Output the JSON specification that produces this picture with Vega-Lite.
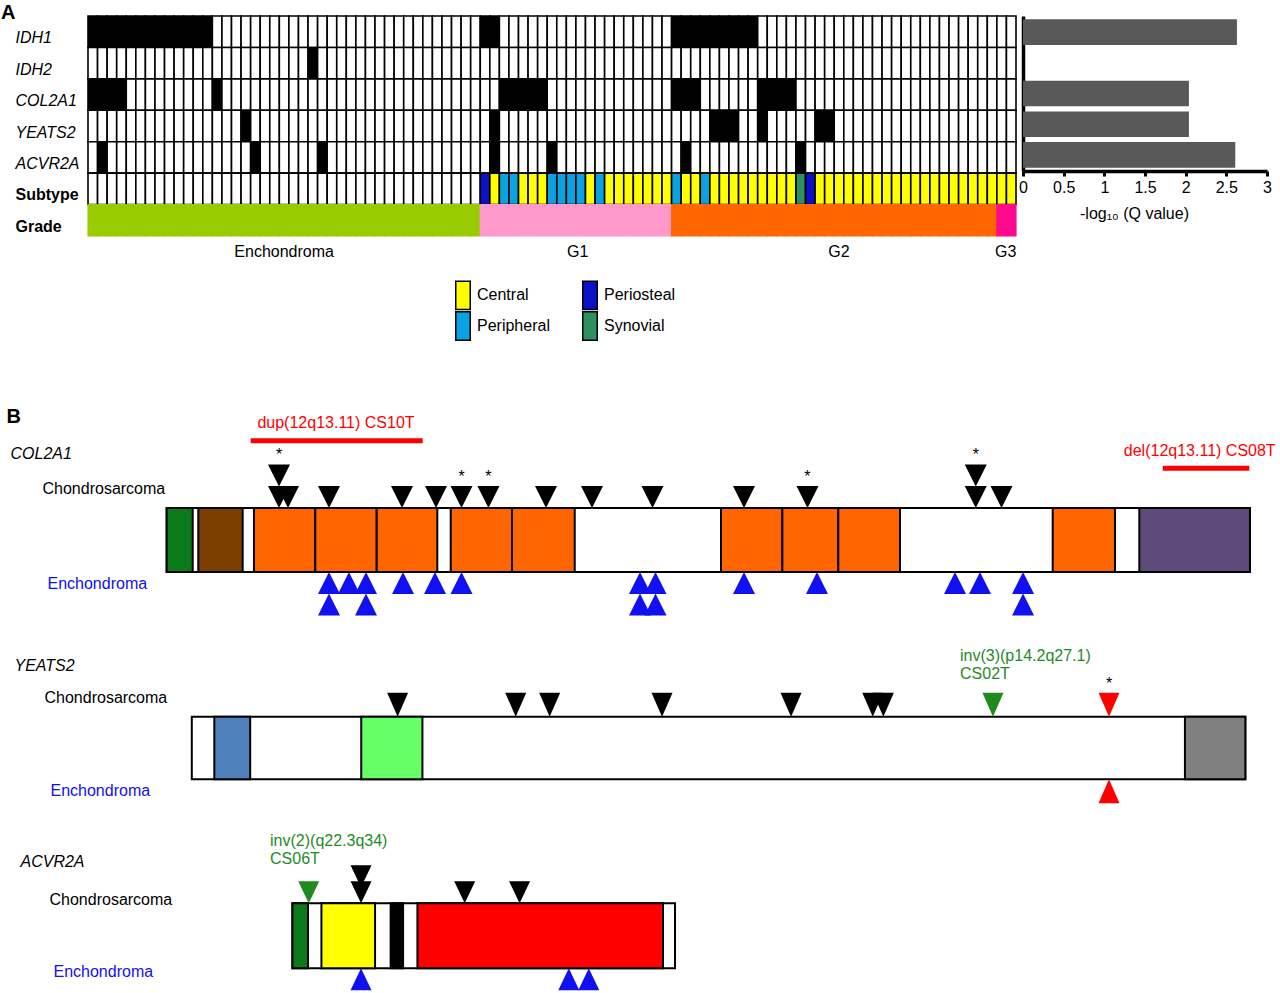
{
  "$schema": "https://vega.github.io/schema/vega-lite/v6.json",
  "autosize": "none",
  "padding": {"left": 88, "top": 16, "right": 1192, "bottom": 977},
  "background": "white",
  "spacing": 0,
  "bounds": "flush",
  "align": "none",
  "resolve": {"scale": {"fill": "independent", "color": "independent", "shape": "independent", "stroke": "independent"}, "legend": {"fill": "independent"}},
  "config": {
    "view": {"stroke": null},
    "font": "Liberation Sans",
    "axis": {"grid": false, "labelColor": "black", "titleColor": "black", "labelFlush": false, "labelOverlap": false}
  },
  "datasets": {
    "samples": [
      {"s":0,"grade":"Enchondroma","IDH1":"Mut","IDH2":"WT","COL2A1":"Mut","YEATS2":"WT","ACVR2A":"WT","Subtype":"None"},
      {"s":1,"grade":"Enchondroma","IDH1":"Mut","IDH2":"WT","COL2A1":"Mut","YEATS2":"WT","ACVR2A":"Mut","Subtype":"None"},
      {"s":2,"grade":"Enchondroma","IDH1":"Mut","IDH2":"WT","COL2A1":"Mut","YEATS2":"WT","ACVR2A":"WT","Subtype":"None"},
      {"s":3,"grade":"Enchondroma","IDH1":"Mut","IDH2":"WT","COL2A1":"Mut","YEATS2":"WT","ACVR2A":"WT","Subtype":"None"},
      {"s":4,"grade":"Enchondroma","IDH1":"Mut","IDH2":"WT","COL2A1":"WT","YEATS2":"WT","ACVR2A":"WT","Subtype":"None"},
      {"s":5,"grade":"Enchondroma","IDH1":"Mut","IDH2":"WT","COL2A1":"WT","YEATS2":"WT","ACVR2A":"WT","Subtype":"None"},
      {"s":6,"grade":"Enchondroma","IDH1":"Mut","IDH2":"WT","COL2A1":"WT","YEATS2":"WT","ACVR2A":"WT","Subtype":"None"},
      {"s":7,"grade":"Enchondroma","IDH1":"Mut","IDH2":"WT","COL2A1":"WT","YEATS2":"WT","ACVR2A":"WT","Subtype":"None"},
      {"s":8,"grade":"Enchondroma","IDH1":"Mut","IDH2":"WT","COL2A1":"WT","YEATS2":"WT","ACVR2A":"WT","Subtype":"None"},
      {"s":9,"grade":"Enchondroma","IDH1":"Mut","IDH2":"WT","COL2A1":"WT","YEATS2":"WT","ACVR2A":"WT","Subtype":"None"},
      {"s":10,"grade":"Enchondroma","IDH1":"Mut","IDH2":"WT","COL2A1":"WT","YEATS2":"WT","ACVR2A":"WT","Subtype":"None"},
      {"s":11,"grade":"Enchondroma","IDH1":"Mut","IDH2":"WT","COL2A1":"WT","YEATS2":"WT","ACVR2A":"WT","Subtype":"None"},
      {"s":12,"grade":"Enchondroma","IDH1":"Mut","IDH2":"WT","COL2A1":"WT","YEATS2":"WT","ACVR2A":"WT","Subtype":"None"},
      {"s":13,"grade":"Enchondroma","IDH1":"WT","IDH2":"WT","COL2A1":"Mut","YEATS2":"WT","ACVR2A":"WT","Subtype":"None"},
      {"s":14,"grade":"Enchondroma","IDH1":"WT","IDH2":"WT","COL2A1":"WT","YEATS2":"WT","ACVR2A":"WT","Subtype":"None"},
      {"s":15,"grade":"Enchondroma","IDH1":"WT","IDH2":"WT","COL2A1":"WT","YEATS2":"WT","ACVR2A":"WT","Subtype":"None"},
      {"s":16,"grade":"Enchondroma","IDH1":"WT","IDH2":"WT","COL2A1":"WT","YEATS2":"Mut","ACVR2A":"WT","Subtype":"None"},
      {"s":17,"grade":"Enchondroma","IDH1":"WT","IDH2":"WT","COL2A1":"WT","YEATS2":"WT","ACVR2A":"Mut","Subtype":"None"},
      {"s":18,"grade":"Enchondroma","IDH1":"WT","IDH2":"WT","COL2A1":"WT","YEATS2":"WT","ACVR2A":"WT","Subtype":"None"},
      {"s":19,"grade":"Enchondroma","IDH1":"WT","IDH2":"WT","COL2A1":"WT","YEATS2":"WT","ACVR2A":"WT","Subtype":"None"},
      {"s":20,"grade":"Enchondroma","IDH1":"WT","IDH2":"WT","COL2A1":"WT","YEATS2":"WT","ACVR2A":"WT","Subtype":"None"},
      {"s":21,"grade":"Enchondroma","IDH1":"WT","IDH2":"WT","COL2A1":"WT","YEATS2":"WT","ACVR2A":"WT","Subtype":"None"},
      {"s":22,"grade":"Enchondroma","IDH1":"WT","IDH2":"WT","COL2A1":"WT","YEATS2":"WT","ACVR2A":"WT","Subtype":"None"},
      {"s":23,"grade":"Enchondroma","IDH1":"WT","IDH2":"Mut","COL2A1":"WT","YEATS2":"WT","ACVR2A":"WT","Subtype":"None"},
      {"s":24,"grade":"Enchondroma","IDH1":"WT","IDH2":"WT","COL2A1":"WT","YEATS2":"WT","ACVR2A":"Mut","Subtype":"None"},
      {"s":25,"grade":"Enchondroma","IDH1":"WT","IDH2":"WT","COL2A1":"WT","YEATS2":"WT","ACVR2A":"WT","Subtype":"None"},
      {"s":26,"grade":"Enchondroma","IDH1":"WT","IDH2":"WT","COL2A1":"WT","YEATS2":"WT","ACVR2A":"WT","Subtype":"None"},
      {"s":27,"grade":"Enchondroma","IDH1":"WT","IDH2":"WT","COL2A1":"WT","YEATS2":"WT","ACVR2A":"WT","Subtype":"None"},
      {"s":28,"grade":"Enchondroma","IDH1":"WT","IDH2":"WT","COL2A1":"WT","YEATS2":"WT","ACVR2A":"WT","Subtype":"None"},
      {"s":29,"grade":"Enchondroma","IDH1":"WT","IDH2":"WT","COL2A1":"WT","YEATS2":"WT","ACVR2A":"WT","Subtype":"None"},
      {"s":30,"grade":"Enchondroma","IDH1":"WT","IDH2":"WT","COL2A1":"WT","YEATS2":"WT","ACVR2A":"WT","Subtype":"None"},
      {"s":31,"grade":"Enchondroma","IDH1":"WT","IDH2":"WT","COL2A1":"WT","YEATS2":"WT","ACVR2A":"WT","Subtype":"None"},
      {"s":32,"grade":"Enchondroma","IDH1":"WT","IDH2":"WT","COL2A1":"WT","YEATS2":"WT","ACVR2A":"WT","Subtype":"None"},
      {"s":33,"grade":"Enchondroma","IDH1":"WT","IDH2":"WT","COL2A1":"WT","YEATS2":"WT","ACVR2A":"WT","Subtype":"None"},
      {"s":34,"grade":"Enchondroma","IDH1":"WT","IDH2":"WT","COL2A1":"WT","YEATS2":"WT","ACVR2A":"WT","Subtype":"None"},
      {"s":35,"grade":"Enchondroma","IDH1":"WT","IDH2":"WT","COL2A1":"WT","YEATS2":"WT","ACVR2A":"WT","Subtype":"None"},
      {"s":36,"grade":"Enchondroma","IDH1":"WT","IDH2":"WT","COL2A1":"WT","YEATS2":"WT","ACVR2A":"WT","Subtype":"None"},
      {"s":37,"grade":"Enchondroma","IDH1":"WT","IDH2":"WT","COL2A1":"WT","YEATS2":"WT","ACVR2A":"WT","Subtype":"None"},
      {"s":38,"grade":"Enchondroma","IDH1":"WT","IDH2":"WT","COL2A1":"WT","YEATS2":"WT","ACVR2A":"WT","Subtype":"None"},
      {"s":39,"grade":"Enchondroma","IDH1":"WT","IDH2":"WT","COL2A1":"WT","YEATS2":"WT","ACVR2A":"WT","Subtype":"None"},
      {"s":40,"grade":"Enchondroma","IDH1":"WT","IDH2":"WT","COL2A1":"WT","YEATS2":"WT","ACVR2A":"WT","Subtype":"None"},
      {"s":41,"grade":"G1","IDH1":"Mut","IDH2":"WT","COL2A1":"WT","YEATS2":"WT","ACVR2A":"WT","Subtype":"Periosteal"},
      {"s":42,"grade":"G1","IDH1":"Mut","IDH2":"WT","COL2A1":"WT","YEATS2":"Mut","ACVR2A":"Mut","Subtype":"Central"},
      {"s":43,"grade":"G1","IDH1":"WT","IDH2":"WT","COL2A1":"Mut","YEATS2":"WT","ACVR2A":"WT","Subtype":"Peripheral"},
      {"s":44,"grade":"G1","IDH1":"WT","IDH2":"WT","COL2A1":"Mut","YEATS2":"WT","ACVR2A":"WT","Subtype":"Peripheral"},
      {"s":45,"grade":"G1","IDH1":"WT","IDH2":"WT","COL2A1":"Mut","YEATS2":"WT","ACVR2A":"WT","Subtype":"Central"},
      {"s":46,"grade":"G1","IDH1":"WT","IDH2":"WT","COL2A1":"Mut","YEATS2":"WT","ACVR2A":"WT","Subtype":"Central"},
      {"s":47,"grade":"G1","IDH1":"WT","IDH2":"WT","COL2A1":"Mut","YEATS2":"WT","ACVR2A":"WT","Subtype":"Central"},
      {"s":48,"grade":"G1","IDH1":"WT","IDH2":"WT","COL2A1":"WT","YEATS2":"WT","ACVR2A":"Mut","Subtype":"Peripheral"},
      {"s":49,"grade":"G1","IDH1":"WT","IDH2":"WT","COL2A1":"WT","YEATS2":"WT","ACVR2A":"WT","Subtype":"Peripheral"},
      {"s":50,"grade":"G1","IDH1":"WT","IDH2":"WT","COL2A1":"WT","YEATS2":"WT","ACVR2A":"WT","Subtype":"Peripheral"},
      {"s":51,"grade":"G1","IDH1":"WT","IDH2":"WT","COL2A1":"WT","YEATS2":"WT","ACVR2A":"WT","Subtype":"Peripheral"},
      {"s":52,"grade":"G1","IDH1":"WT","IDH2":"WT","COL2A1":"WT","YEATS2":"WT","ACVR2A":"WT","Subtype":"Central"},
      {"s":53,"grade":"G1","IDH1":"WT","IDH2":"WT","COL2A1":"WT","YEATS2":"WT","ACVR2A":"WT","Subtype":"Peripheral"},
      {"s":54,"grade":"G1","IDH1":"WT","IDH2":"WT","COL2A1":"WT","YEATS2":"WT","ACVR2A":"WT","Subtype":"Central"},
      {"s":55,"grade":"G1","IDH1":"WT","IDH2":"WT","COL2A1":"WT","YEATS2":"WT","ACVR2A":"WT","Subtype":"Central"},
      {"s":56,"grade":"G1","IDH1":"WT","IDH2":"WT","COL2A1":"WT","YEATS2":"WT","ACVR2A":"WT","Subtype":"Central"},
      {"s":57,"grade":"G1","IDH1":"WT","IDH2":"WT","COL2A1":"WT","YEATS2":"WT","ACVR2A":"WT","Subtype":"Central"},
      {"s":58,"grade":"G1","IDH1":"WT","IDH2":"WT","COL2A1":"WT","YEATS2":"WT","ACVR2A":"WT","Subtype":"Central"},
      {"s":59,"grade":"G1","IDH1":"WT","IDH2":"WT","COL2A1":"WT","YEATS2":"WT","ACVR2A":"WT","Subtype":"Central"},
      {"s":60,"grade":"G1","IDH1":"WT","IDH2":"WT","COL2A1":"WT","YEATS2":"WT","ACVR2A":"WT","Subtype":"Central"},
      {"s":61,"grade":"G2","IDH1":"Mut","IDH2":"WT","COL2A1":"Mut","YEATS2":"WT","ACVR2A":"WT","Subtype":"Peripheral"},
      {"s":62,"grade":"G2","IDH1":"Mut","IDH2":"WT","COL2A1":"Mut","YEATS2":"WT","ACVR2A":"Mut","Subtype":"Central"},
      {"s":63,"grade":"G2","IDH1":"Mut","IDH2":"WT","COL2A1":"Mut","YEATS2":"WT","ACVR2A":"WT","Subtype":"Central"},
      {"s":64,"grade":"G2","IDH1":"Mut","IDH2":"WT","COL2A1":"WT","YEATS2":"WT","ACVR2A":"WT","Subtype":"Peripheral"},
      {"s":65,"grade":"G2","IDH1":"Mut","IDH2":"WT","COL2A1":"WT","YEATS2":"Mut","ACVR2A":"WT","Subtype":"Central"},
      {"s":66,"grade":"G2","IDH1":"Mut","IDH2":"WT","COL2A1":"WT","YEATS2":"Mut","ACVR2A":"WT","Subtype":"Central"},
      {"s":67,"grade":"G2","IDH1":"Mut","IDH2":"WT","COL2A1":"WT","YEATS2":"Mut","ACVR2A":"WT","Subtype":"Central"},
      {"s":68,"grade":"G2","IDH1":"Mut","IDH2":"WT","COL2A1":"WT","YEATS2":"WT","ACVR2A":"WT","Subtype":"Central"},
      {"s":69,"grade":"G2","IDH1":"Mut","IDH2":"WT","COL2A1":"WT","YEATS2":"WT","ACVR2A":"WT","Subtype":"Central"},
      {"s":70,"grade":"G2","IDH1":"WT","IDH2":"WT","COL2A1":"Mut","YEATS2":"Mut","ACVR2A":"WT","Subtype":"Central"},
      {"s":71,"grade":"G2","IDH1":"WT","IDH2":"WT","COL2A1":"Mut","YEATS2":"WT","ACVR2A":"WT","Subtype":"Central"},
      {"s":72,"grade":"G2","IDH1":"WT","IDH2":"WT","COL2A1":"Mut","YEATS2":"WT","ACVR2A":"WT","Subtype":"Central"},
      {"s":73,"grade":"G2","IDH1":"WT","IDH2":"WT","COL2A1":"Mut","YEATS2":"WT","ACVR2A":"WT","Subtype":"Central"},
      {"s":74,"grade":"G2","IDH1":"WT","IDH2":"WT","COL2A1":"WT","YEATS2":"WT","ACVR2A":"Mut","Subtype":"Synovial"},
      {"s":75,"grade":"G2","IDH1":"WT","IDH2":"WT","COL2A1":"WT","YEATS2":"WT","ACVR2A":"WT","Subtype":"Periosteal"},
      {"s":76,"grade":"G2","IDH1":"WT","IDH2":"WT","COL2A1":"WT","YEATS2":"Mut","ACVR2A":"WT","Subtype":"Central"},
      {"s":77,"grade":"G2","IDH1":"WT","IDH2":"WT","COL2A1":"WT","YEATS2":"Mut","ACVR2A":"WT","Subtype":"Central"},
      {"s":78,"grade":"G2","IDH1":"WT","IDH2":"WT","COL2A1":"WT","YEATS2":"WT","ACVR2A":"WT","Subtype":"Central"},
      {"s":79,"grade":"G2","IDH1":"WT","IDH2":"WT","COL2A1":"WT","YEATS2":"WT","ACVR2A":"WT","Subtype":"Central"},
      {"s":80,"grade":"G2","IDH1":"WT","IDH2":"WT","COL2A1":"WT","YEATS2":"WT","ACVR2A":"WT","Subtype":"Central"},
      {"s":81,"grade":"G2","IDH1":"WT","IDH2":"WT","COL2A1":"WT","YEATS2":"WT","ACVR2A":"WT","Subtype":"Central"},
      {"s":82,"grade":"G2","IDH1":"WT","IDH2":"WT","COL2A1":"WT","YEATS2":"WT","ACVR2A":"WT","Subtype":"Central"},
      {"s":83,"grade":"G2","IDH1":"WT","IDH2":"WT","COL2A1":"WT","YEATS2":"WT","ACVR2A":"WT","Subtype":"Central"},
      {"s":84,"grade":"G2","IDH1":"WT","IDH2":"WT","COL2A1":"WT","YEATS2":"WT","ACVR2A":"WT","Subtype":"Central"},
      {"s":85,"grade":"G2","IDH1":"WT","IDH2":"WT","COL2A1":"WT","YEATS2":"WT","ACVR2A":"WT","Subtype":"Central"},
      {"s":86,"grade":"G2","IDH1":"WT","IDH2":"WT","COL2A1":"WT","YEATS2":"WT","ACVR2A":"WT","Subtype":"Central"},
      {"s":87,"grade":"G2","IDH1":"WT","IDH2":"WT","COL2A1":"WT","YEATS2":"WT","ACVR2A":"WT","Subtype":"Central"},
      {"s":88,"grade":"G2","IDH1":"WT","IDH2":"WT","COL2A1":"WT","YEATS2":"WT","ACVR2A":"WT","Subtype":"Central"},
      {"s":89,"grade":"G2","IDH1":"WT","IDH2":"WT","COL2A1":"WT","YEATS2":"WT","ACVR2A":"WT","Subtype":"Central"},
      {"s":90,"grade":"G2","IDH1":"WT","IDH2":"WT","COL2A1":"WT","YEATS2":"WT","ACVR2A":"WT","Subtype":"Central"},
      {"s":91,"grade":"G2","IDH1":"WT","IDH2":"WT","COL2A1":"WT","YEATS2":"WT","ACVR2A":"WT","Subtype":"Central"},
      {"s":92,"grade":"G2","IDH1":"WT","IDH2":"WT","COL2A1":"WT","YEATS2":"WT","ACVR2A":"WT","Subtype":"Central"},
      {"s":93,"grade":"G2","IDH1":"WT","IDH2":"WT","COL2A1":"WT","YEATS2":"WT","ACVR2A":"WT","Subtype":"Central"},
      {"s":94,"grade":"G2","IDH1":"WT","IDH2":"WT","COL2A1":"WT","YEATS2":"WT","ACVR2A":"WT","Subtype":"Central"},
      {"s":95,"grade":"G3","IDH1":"WT","IDH2":"WT","COL2A1":"WT","YEATS2":"WT","ACVR2A":"WT","Subtype":"Central"},
      {"s":96,"grade":"G3","IDH1":"WT","IDH2":"WT","COL2A1":"WT","YEATS2":"WT","ACVR2A":"WT","Subtype":"Central"}
    ],
    "qvals": [
      {"gene":"IDH1","q":2.63},
      {"gene":"COL2A1","q":2.04},
      {"gene":"YEATS2","q":2.04},
      {"gene":"ACVR2A","q":2.61}
    ],
    "features": [
      {"gene":"COL2A1","feature":"Protein","start":0,"end":1487},
      {"gene":"COL2A1","feature":"Signal peptide","start":0,"end":35.7},
      {"gene":"COL2A1","feature":"VWFC","start":43.4,"end":104.3},
      {"gene":"COL2A1","feature":"Collagen triple helix","start":119.8,"end":204.0},
      {"gene":"COL2A1","feature":"Collagen triple helix","start":204.0,"end":288.3},
      {"gene":"COL2A1","feature":"Collagen triple helix","start":288.3,"end":371.5},
      {"gene":"COL2A1","feature":"Collagen triple helix","start":389.9,"end":474.0},
      {"gene":"COL2A1","feature":"Collagen triple helix","start":474.0,"end":560.1},
      {"gene":"COL2A1","feature":"Collagen triple helix","start":760.9,"end":845.1},
      {"gene":"COL2A1","feature":"Collagen triple helix","start":845.1,"end":921.9},
      {"gene":"COL2A1","feature":"Collagen triple helix","start":921.9,"end":1006.6},
      {"gene":"COL2A1","feature":"Collagen triple helix","start":1216.2,"end":1301.7},
      {"gene":"COL2A1","feature":"Fibrillar collagen NC1","start":1335.1,"end":1487},
      {"gene":"YEATS2","feature":"Protein","start":0,"end":1422},
      {"gene":"YEATS2","feature":"N-terminal region","start":30.4,"end":78.8},
      {"gene":"YEATS2","feature":"YEATS","start":228.7,"end":311.3},
      {"gene":"YEATS2","feature":"C-terminal region","start":1340.5,"end":1422},
      {"gene":"ACVR2A","feature":"Protein","start":0,"end":513},
      {"gene":"ACVR2A","feature":"Signal peptide","start":0,"end":20.9},
      {"gene":"ACVR2A","feature":"Activin receptor","start":38.9,"end":110.8},
      {"gene":"ACVR2A","feature":"Transmembrane","start":131.7,"end":148.4},
      {"gene":"ACVR2A","feature":"Protein kinase","start":167.6,"end":496.9}
    ],
    "mutations": [
      {"gene":"COL2A1","pos":154.2,"tumor":"Chondrosarcoma","kind":"Chondrosarcoma","stack":1},
      {"gene":"COL2A1","pos":154.2,"tumor":"Chondrosarcoma","kind":"Chondrosarcoma","stack":2,"star":true},
      {"gene":"COL2A1","pos":166.5,"tumor":"Chondrosarcoma","kind":"Chondrosarcoma","stack":1},
      {"gene":"COL2A1","pos":222.8,"tumor":"Chondrosarcoma","kind":"Chondrosarcoma","stack":1},
      {"gene":"COL2A1","pos":323.0,"tumor":"Chondrosarcoma","kind":"Chondrosarcoma","stack":1},
      {"gene":"COL2A1","pos":369.7,"tumor":"Chondrosarcoma","kind":"Chondrosarcoma","stack":1},
      {"gene":"COL2A1","pos":404.7,"tumor":"Chondrosarcoma","kind":"Chondrosarcoma","stack":1,"star":true},
      {"gene":"COL2A1","pos":441.7,"tumor":"Chondrosarcoma","kind":"Chondrosarcoma","stack":1,"star":true},
      {"gene":"COL2A1","pos":520.7,"tumor":"Chondrosarcoma","kind":"Chondrosarcoma","stack":1},
      {"gene":"COL2A1","pos":583.8,"tumor":"Chondrosarcoma","kind":"Chondrosarcoma","stack":1},
      {"gene":"COL2A1","pos":666.9,"tumor":"Chondrosarcoma","kind":"Chondrosarcoma","stack":1},
      {"gene":"COL2A1","pos":792.5,"tumor":"Chondrosarcoma","kind":"Chondrosarcoma","stack":1},
      {"gene":"COL2A1","pos":879.6,"tumor":"Chondrosarcoma","kind":"Chondrosarcoma","stack":1,"star":true},
      {"gene":"COL2A1","pos":1110.6,"tumor":"Chondrosarcoma","kind":"Chondrosarcoma","stack":1},
      {"gene":"COL2A1","pos":1110.6,"tumor":"Chondrosarcoma","kind":"Chondrosarcoma","stack":2,"star":true},
      {"gene":"COL2A1","pos":1145.9,"tumor":"Chondrosarcoma","kind":"Chondrosarcoma","stack":1},
      {"gene":"COL2A1","pos":222.8,"tumor":"Enchondroma","kind":"Enchondroma","stack":-1},
      {"gene":"COL2A1","pos":222.8,"tumor":"Enchondroma","kind":"Enchondroma","stack":-2},
      {"gene":"COL2A1","pos":250.2,"tumor":"Enchondroma","kind":"Enchondroma","stack":-1},
      {"gene":"COL2A1","pos":273.6,"tumor":"Enchondroma","kind":"Enchondroma","stack":-1},
      {"gene":"COL2A1","pos":273.6,"tumor":"Enchondroma","kind":"Enchondroma","stack":-2},
      {"gene":"COL2A1","pos":324.4,"tumor":"Enchondroma","kind":"Enchondroma","stack":-1},
      {"gene":"COL2A1","pos":368.3,"tumor":"Enchondroma","kind":"Enchondroma","stack":-1},
      {"gene":"COL2A1","pos":404.7,"tumor":"Enchondroma","kind":"Enchondroma","stack":-1},
      {"gene":"COL2A1","pos":649.7,"tumor":"Enchondroma","kind":"Enchondroma","stack":-1},
      {"gene":"COL2A1","pos":649.7,"tumor":"Enchondroma","kind":"Enchondroma","stack":-2},
      {"gene":"COL2A1","pos":671.0,"tumor":"Enchondroma","kind":"Enchondroma","stack":-1},
      {"gene":"COL2A1","pos":671.0,"tumor":"Enchondroma","kind":"Enchondroma","stack":-2},
      {"gene":"COL2A1","pos":792.5,"tumor":"Enchondroma","kind":"Enchondroma","stack":-1},
      {"gene":"COL2A1","pos":892.7,"tumor":"Enchondroma","kind":"Enchondroma","stack":-1},
      {"gene":"COL2A1","pos":1082.1,"tumor":"Enchondroma","kind":"Enchondroma","stack":-1},
      {"gene":"COL2A1","pos":1116.4,"tumor":"Enchondroma","kind":"Enchondroma","stack":-1},
      {"gene":"COL2A1","pos":1175.5,"tumor":"Enchondroma","kind":"Enchondroma","stack":-1},
      {"gene":"COL2A1","pos":1175.5,"tumor":"Enchondroma","kind":"Enchondroma","stack":-2},
      {"gene":"YEATS2","pos":277.8,"tumor":"Chondrosarcoma","kind":"Chondrosarcoma","stack":1},
      {"gene":"YEATS2","pos":437.2,"tumor":"Chondrosarcoma","kind":"Chondrosarcoma","stack":1},
      {"gene":"YEATS2","pos":483.0,"tumor":"Chondrosarcoma","kind":"Chondrosarcoma","stack":1},
      {"gene":"YEATS2","pos":634.7,"tumor":"Chondrosarcoma","kind":"Chondrosarcoma","stack":1},
      {"gene":"YEATS2","pos":808.8,"tumor":"Chondrosarcoma","kind":"Chondrosarcoma","stack":1},
      {"gene":"YEATS2","pos":919.1,"tumor":"Chondrosarcoma","kind":"Chondrosarcoma","stack":1},
      {"gene":"YEATS2","pos":933.4,"tumor":"Chondrosarcoma","kind":"Chondrosarcoma","stack":1},
      {"gene":"YEATS2","pos":1081.4,"tumor":"Chondrosarcoma","kind":"Breakpoint","stack":1},
      {"gene":"YEATS2","pos":1238.0,"tumor":"Chondrosarcoma","kind":"Both","stack":1,"star":true},
      {"gene":"YEATS2","pos":1238.0,"tumor":"Enchondroma","kind":"Both","stack":-1},
      {"gene":"ACVR2A","pos":21.9,"tumor":"Chondrosarcoma","kind":"Breakpoint","stack":1},
      {"gene":"ACVR2A","pos":92.0,"tumor":"Chondrosarcoma","kind":"Chondrosarcoma","stack":2},
      {"gene":"ACVR2A","pos":92.0,"tumor":"Chondrosarcoma","kind":"Chondrosarcoma","stack":1},
      {"gene":"ACVR2A","pos":231.0,"tumor":"Chondrosarcoma","kind":"Chondrosarcoma","stack":1},
      {"gene":"ACVR2A","pos":304.6,"tumor":"Chondrosarcoma","kind":"Chondrosarcoma","stack":1},
      {"gene":"ACVR2A","pos":92.0,"tumor":"Enchondroma","kind":"Enchondroma","stack":-1},
      {"gene":"ACVR2A","pos":370.6,"tumor":"Enchondroma","kind":"Enchondroma","stack":-1},
      {"gene":"ACVR2A","pos":397.4,"tumor":"Enchondroma","kind":"Enchondroma","stack":-1}
    ],
    "svs": [
      {"gene":"COL2A1","label":"dup(12q13.11) CS10T","start":115.3,"end":351.4,"mid":232.4,"level":4.614},
      {"gene":"COL2A1","label":"del(12q13.11) CS08T","start":1367.2,"end":1486.1,"mid":1418.0,"level":3.335}
    ],
    "breakpoints": [
      {"gene":"YEATS2","label":"inv(3)(p14.2q27.1)\nCS02T","pos":1036.9,"level":4.167},
      {"gene":"ACVR2A","label":"inv(2)(q22.3q34)\nCS06T","pos":-30.0,"level":6.425}
    ]
  },
  "vconcat": [
    {
      "width": 1179,
      "height": 220,
      "title": {"text": "A", "anchor": "start", "frame": "group", "fontSize": 20, "fontWeight": "bold", "dx": -87, "offset": 1, "dy": 25, "baseline": "alphabetic", "color": "black"},
      "resolve": {"scale": {"x": "independent", "y": "independent"}, "axis": {"x": "independent", "y": "independent"}},
      "layer": [
        {
          "data": {"name": "samples"},
          "transform": [{"fold": ["IDH1", "IDH2", "COL2A1", "YEATS2", "ACVR2A", "Subtype"], "as": ["row", "status"]}],
          "mark": {"type": "rect", "stroke": "black", "strokeWidth": 1.6},
          "encoding": {
            "x": {"field": "s", "type": "ordinal", "scale": {"range": [0, 928], "paddingInner": 0, "paddingOuter": 0},
              "axis": {"orient": "bottom", "values": [20, 51, 78, 95],
                "labelExpr": "datum.value == 20 ? 'Enchondroma' : datum.value == 51 ? 'G1' : datum.value == 78 ? 'G2' : 'G3'",
                "ticks": false, "tickSize": 0, "domain": false, "labelPadding": 7, "labelFontSize": 16, "labelAngle": 0, "title": null,
                "labelOffset": {"condition": [{"test": "datum.value == 95", "value": 4}, {"test": "datum.value == 51", "value": -3}], "value": 0}}},
            "y": {"field": "row", "type": "nominal",
              "scale": {"domain": ["IDH1", "IDH2", "COL2A1", "YEATS2", "ACVR2A", "Subtype", "Grade"], "range": [0, 220], "paddingInner": 0, "paddingOuter": 0},
              "axis": {"orient": "left", "domain": false, "ticks": false, "tickSize": 0, "labelAlign": "left", "labelPadding": 73, "labelFontSize": 16,
                "labelOffset": 6.5, "labelBaseline": "middle", "title": null,
                "labelFontStyle": {"condition": {"test": "datum.value == 'Subtype' || datum.value == 'Grade'", "value": "normal"}, "value": "italic"},
                "labelFontWeight": {"condition": {"test": "datum.value == 'Subtype' || datum.value == 'Grade'", "value": "bold"}, "value": "normal"}}},
            "fill": {"field": "status", "type": "nominal",
              "scale": {"domain": ["WT", "Mut", "None", "Central", "Peripheral", "Periosteal", "Synovial", "Enchondroma", "G1", "G2", "G3"],
                "range": ["#ffffff", "#000000", "#ffffff", "#ffff00", "#0aa2e0", "#0c10c8", "#2e9060", "#99cc00", "#ff99cc", "#ff6600", "#ff0a8c"]},
              "legend": {"orient": "none", "legendX": 362, "legendY": 266, "values": ["Central", "Peripheral", "Periosteal", "Synovial"], "columns": 2,
                "title": null, "symbolType": "M-0.592,-1.163H0.592V1.163H-0.592Z", "symbolSize": 600, "symbolStrokeColor": "black", "symbolStrokeWidth": 1.5,
                "symbolOpacity": 1, "labelFontSize": 16, "labelOffset": 1, "rowPadding": -8, "columnPadding": 27, "padding": 0, "labelColor": "black"}}
          }
        },
        {
          "data": {"name": "samples"},
          "mark": {"type": "rect", "strokeWidth": 1.2},
          "encoding": {
            "x": {"field": "s", "type": "ordinal", "scale": {"range": [0, 928], "paddingInner": 0, "paddingOuter": 0}, "axis": null},
            "y": {"datum": "Grade", "type": "nominal",
              "scale": {"domain": ["IDH1", "IDH2", "COL2A1", "YEATS2", "ACVR2A", "Subtype", "Grade"], "range": [0, 220], "paddingInner": 0, "paddingOuter": 0}, "axis": null},
            "fill": {"field": "grade", "type": "nominal",
              "scale": {"domain": ["WT", "Mut", "None", "Central", "Peripheral", "Periosteal", "Synovial", "Enchondroma", "G1", "G2", "G3"],
                "range": ["#ffffff", "#000000", "#ffffff", "#ffff00", "#0aa2e0", "#0c10c8", "#2e9060", "#99cc00", "#ff99cc", "#ff6600", "#ff0a8c"]}},
            "stroke": {"field": "grade", "type": "nominal", "scale": {"domain": ["Enchondroma", "G1", "G2", "G3"], "range": ["#99cc00", "#ff99cc", "#ff6600", "#ff0a8c"]}, "legend": null}
          }
        },
        {
          "data": {"name": "qvals"},
          "mark": {"type": "bar", "color": "#595959"},
          "encoding": {
            "x": {"field": "q", "type": "quantitative", "scale": {"domain": [0, 3], "range": [935, 1179], "nice": false},
              "axis": {"orient": "bottom", "offset": -65, "values": [0, 0.5, 1, 1.5, 2, 2.5, 3], "format": "~g", "domainWidth": 3.5, "domainColor": "black",
                "ticks": true, "tickWidth": 3, "tickSize": 5, "tickColor": "black", "labelFontSize": 16, "labelPadding": 3,
                "title": "-log₁₀ (Q value)", "titleFontSize": 16, "titleFontWeight": "normal", "titlePadding": 10, "titleX": 1046}},
            "y": {"field": "gene", "type": "nominal",
              "scale": {"domain": ["IDH1", "IDH2", "COL2A1", "YEATS2", "ACVR2A"], "range": [0, 155], "paddingInner": 0.165, "paddingOuter": 0.108},
              "axis": {"orient": "left", "offset": -935, "domainWidth": 3.5, "domainColor": "black", "ticks": false, "labels": false, "title": null}}
          }
        }
      ]
    },
    {
      "width": 1192,
      "height": 400,
      "layer": [
        {
          "data": {"name": "features"},
          "transform": [{"filter": "datum.gene == 'COL2A1'"}],
          "mark": {"type": "rect", "stroke": "black", "strokeWidth": 2},
          "encoding": {
            "x": {"field": "start", "type": "quantitative", "scale": {"domain": [-108.0, 1528.2], "nice": false, "zero": false}, "axis": null},
            "x2": {"field": "end"},
            "y": {"datum": -1.488, "type": "quantitative", "scale": {"domain": [-4.465, 14.14], "nice": false, "zero": false},
              "axis": {"orient": "left", "values": [5.735, 4.03, 2.405, -2.015],
                "labelExpr": "datum.value > 5 ? 'B' : datum.value > 3 ? 'COL2A1' : datum.value > 0 ? 'Chondrosarcoma' : 'Enchondroma'",
                "domain": false, "ticks": false, "tickSize": 0, "grid": false, "title": null, "labelAlign": "left", "labelBaseline": "middle",
                "labelPadding": {"condition": [{"test": "datum.value > 5", "value": 82}, {"test": "datum.value > 3", "value": 78}, {"test": "datum.value > 0", "value": 46}], "value": 41},
                "labelFontSize": {"condition": {"test": "datum.value > 5", "value": 20}, "value": 16},
                "labelFontWeight": {"condition": {"test": "datum.value > 5", "value": "bold"}, "value": "normal"},
                "labelFontStyle": {"condition": {"test": "datum.value > 3 && datum.value < 5", "value": "italic"}, "value": "normal"},
                "labelColor": {"condition": {"test": "datum.value < 0", "value": "#1010f0"}, "value": "black"}}},
            "y2": {"datum": 1.488},
            "fill": {"field": "feature", "type": "nominal",
              "scale": {"domain": ["Protein", "Signal peptide", "VWFC", "Collagen triple helix", "Fibrillar collagen NC1"],
                "range": ["#ffffff", "#0b7a1b", "#7c3f00", "#ff6600", "#5f4b7b"]}, "legend": null}
          }
        },
        {
          "data": {"name": "svs"},
          "transform": [{"filter": "datum.gene == 'COL2A1'"}],
          "mark": {"type": "rule", "color": "#ff0000", "strokeWidth": 5},
          "encoding": {
            "x": {"field": "start", "type": "quantitative"},
            "x2": {"field": "end"},
            "y": {"field": "level", "type": "quantitative"}
          }
        },
        {
          "data": {"name": "svs"},
          "transform": [{"filter": "datum.gene == 'COL2A1'"}],
          "mark": {"type": "text", "color": "#ff0000", "fontSize": 16, "dy": -17.5, "baseline": "middle"},
          "encoding": {
            "x": {"field": "mid", "type": "quantitative"},
            "y": {"field": "level", "type": "quantitative"},
            "text": {"field": "label"}
          }
        },
        {
          "data": {"name": "mutations"},
          "transform": [{"filter": "datum.gene == 'COL2A1'"}],
          "mark": {"type": "point", "filled": true, "opacity": 1, "size": 1936, "strokeWidth": 0},
          "encoding": {
            "x": {"field": "pos", "type": "quantitative"},
            "y": {"field": "stack", "type": "quantitative"},
            "shape": {"field": "tumor", "type": "nominal",
              "scale": {"domain": ["Chondrosarcoma", "Enchondroma"], "range": ["M-0.5,-1.477L0.5,-1.477L0,-0.477Z", "M-0.5,1.477L0.5,1.477L0,0.477Z"]}, "legend": null},
            "color": {"field": "kind", "type": "nominal",
              "scale": {"domain": ["Chondrosarcoma", "Enchondroma", "Both", "Breakpoint"], "range": ["#000000", "#1010f0", "#ff0000", "#1f8b1f"]}, "legend": null}
          }
        },
        {
          "data": {"name": "mutations"},
          "transform": [{"filter": "datum.gene == 'COL2A1' && datum.star"}],
          "mark": {"type": "text", "text": "*", "fontSize": 16, "dy": -42, "baseline": "middle", "color": "black"},
          "encoding": {
            "x": {"field": "pos", "type": "quantitative"},
            "y": {"field": "stack", "type": "quantitative"}
          }
        }
      ]
    },
    {
      "width": 1192,
      "height": 190,
      "layer": [
        {
          "data": {"name": "features"},
          "transform": [{"filter": "datum.gene == 'YEATS2'"}],
          "mark": {"type": "rect", "stroke": "black", "strokeWidth": 2},
          "encoding": {
            "x": {"field": "start", "type": "quantitative", "scale": {"domain": [-140.1, 1468.8], "nice": false, "zero": false}, "axis": null},
            "x2": {"field": "end"},
            "y": {"datum": -1.304, "type": "quantitative", "scale": {"domain": [-3.25, 4.667], "nice": false, "zero": false},
              "axis": {"orient": "left", "values": [3.458, 2.104, -1.783],
                "labelExpr": "datum.value > 3 ? 'YEATS2' : datum.value > 0 ? 'Chondrosarcoma' : 'Enchondroma'",
                "domain": false, "ticks": false, "tickSize": 0, "grid": false, "title": null, "labelAlign": "left", "labelBaseline": "middle",
                "labelPadding": {"condition": [{"test": "datum.value > 3", "value": 74}, {"test": "datum.value > 0", "value": 44}], "value": 38},
                "labelFontSize": 16,
                "labelFontStyle": {"condition": {"test": "datum.value > 3", "value": "italic"}, "value": "normal"},
                "labelColor": {"condition": {"test": "datum.value < 0", "value": "#1010f0"}, "value": "black"}}},
            "y2": {"datum": 1.304},
            "fill": {"field": "feature", "type": "nominal",
              "scale": {"domain": ["Protein", "N-terminal region", "YEATS", "C-terminal region"],
                "range": ["#ffffff", "#4f81bd", "#66ff66", "#808080"]}, "legend": null}
          }
        },
        {
          "data": {"name": "breakpoints"},
          "transform": [{"filter": "datum.gene == 'YEATS2'"}],
          "mark": {"type": "text", "align": "left", "baseline": "top", "lineBreak": "\n", "lineHeight": 18, "fontSize": 16, "color": "#1f8b1f"},
          "encoding": {
            "x": {"field": "pos", "type": "quantitative"},
            "y": {"field": "level", "type": "quantitative"},
            "text": {"field": "label"}
          }
        },
        {
          "data": {"name": "mutations"},
          "transform": [{"filter": "datum.gene == 'YEATS2'"}],
          "mark": {"type": "point", "filled": true, "opacity": 1, "size": 2304, "strokeWidth": 0},
          "encoding": {
            "x": {"field": "pos", "type": "quantitative"},
            "y": {"field": "stack", "type": "quantitative"},
            "shape": {"field": "tumor", "type": "nominal",
              "scale": {"domain": ["Chondrosarcoma", "Enchondroma"], "range": ["M-0.4375,-1.304L0.4375,-1.304L0,-0.304Z", "M-0.4375,1.304L0.4375,1.304L0,0.304Z"]}, "legend": null},
            "color": {"field": "kind", "type": "nominal",
              "scale": {"domain": ["Chondrosarcoma", "Enchondroma", "Both", "Breakpoint"], "range": ["#000000", "#1010f0", "#ff0000", "#1f8b1f"]}, "legend": null}
          }
        },
        {
          "data": {"name": "mutations"},
          "transform": [{"filter": "datum.gene == 'YEATS2' && datum.star"}],
          "mark": {"type": "text", "text": "*", "fontSize": 16, "dy": -40, "baseline": "middle", "color": "black"},
          "encoding": {
            "x": {"field": "pos", "type": "quantitative"},
            "y": {"field": "stack", "type": "quantitative"}
          }
        }
      ]
    },
    {
      "width": 1192,
      "height": 167,
      "layer": [
        {
          "data": {"name": "features"},
          "transform": [{"filter": "datum.gene == 'ACVR2A'"}],
          "mark": {"type": "rect", "stroke": "black", "strokeWidth": 2},
          "encoding": {
            "x": {"field": "start", "type": "quantitative", "scale": {"domain": [-274.1, 1324.2], "nice": false, "zero": false}, "axis": null},
            "x2": {"field": "end"},
            "y": {"datum": -2.031, "type": "quantitative", "scale": {"domain": [-3.575, 6.8625], "nice": false, "zero": false},
              "axis": {"orient": "left", "values": [4.631, 2.3, -2.2],
                "labelExpr": "datum.value > 3 ? 'ACVR2A' : datum.value > 0 ? 'Chondrosarcoma' : 'Enchondroma'",
                "domain": false, "ticks": false, "tickSize": 0, "grid": false, "title": null, "labelAlign": "left", "labelBaseline": "middle",
                "labelPadding": {"condition": [{"test": "datum.value > 3", "value": 68}, {"test": "datum.value > 0", "value": 39}], "value": 35},
                "labelFontSize": 16,
                "labelFontStyle": {"condition": {"test": "datum.value > 3", "value": "italic"}, "value": "normal"},
                "labelColor": {"condition": {"test": "datum.value < 0", "value": "#1010f0"}, "value": "black"}}},
            "y2": {"datum": 2.031},
            "fill": {"field": "feature", "type": "nominal",
              "scale": {"domain": ["Protein", "Signal peptide", "Activin receptor", "Transmembrane", "Protein kinase"],
                "range": ["#ffffff", "#0b7a1b", "#ffff00", "#000000", "#ff0000"]}, "legend": null}
          }
        },
        {
          "data": {"name": "breakpoints"},
          "transform": [{"filter": "datum.gene == 'ACVR2A'"}],
          "mark": {"type": "text", "align": "left", "baseline": "top", "lineBreak": "\n", "lineHeight": 18, "fontSize": 16, "color": "#1f8b1f"},
          "encoding": {
            "x": {"field": "pos", "type": "quantitative"},
            "y": {"field": "level", "type": "quantitative"},
            "text": {"field": "label"}
          }
        },
        {
          "data": {"name": "mutations"},
          "transform": [{"filter": "datum.gene == 'ACVR2A'"}],
          "mark": {"type": "point", "filled": true, "opacity": 1, "size": 1936, "strokeWidth": 0},
          "encoding": {
            "x": {"field": "pos", "type": "quantitative"},
            "y": {"field": "stack", "type": "quantitative"},
            "shape": {"field": "tumor", "type": "nominal",
              "scale": {"domain": ["Chondrosarcoma", "Enchondroma"], "range": ["M-0.477,-1.75L0.477,-1.75L0,-0.75Z", "M-0.477,1.75L0.477,1.75L0,0.75Z"]}, "legend": null},
            "color": {"field": "kind", "type": "nominal",
              "scale": {"domain": ["Chondrosarcoma", "Enchondroma", "Both", "Breakpoint"], "range": ["#000000", "#1010f0", "#ff0000", "#1f8b1f"]}, "legend": null}
          }
        }
      ]
    }
  ]
}
